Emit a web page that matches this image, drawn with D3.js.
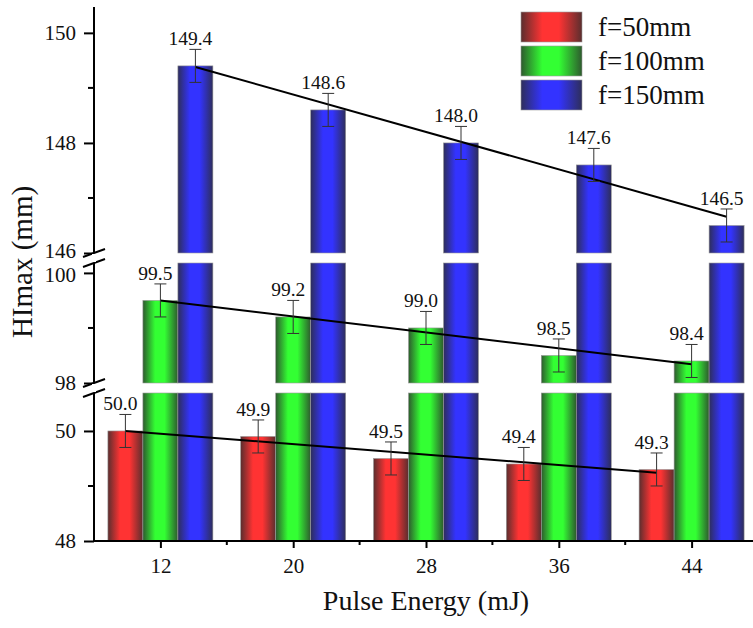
<!DOCTYPE html>
<html>
<head>
<meta charset="utf-8">
<script src="https://cdn.jsdelivr.net/npm/d3@7"></script>
<style>
  body { margin: 0; background: #fff; }
  text { font-family: "Liberation Serif", "Times New Roman", "DejaVu Serif", serif; fill: #111; }
</style>
</head>
<body>
<script>
const width = 753, height = 628;
const serif = '"Liberation Serif", "Times New Roman", "DejaVu Serif", serif';

// data
const energies = [12, 20, 28, 36, 44];
const seriesNames = ["f=50mm", "f=100mm", "f=150mm"];
const f50 = [50.0, 49.9, 49.5, 49.4, 49.3];
const f100 = [99.5, 99.2, 99.0, 98.5, 98.4];
const f150 = [149.4, 148.6, 148.0, 147.6, 146.5];
const err50 = [0.3, 0.3, 0.3, 0.3, 0.3];
const err100 = [0.3, 0.3, 0.3, 0.3, 0.3];
const err150 = [0.3, 0.3, 0.3, 0.3, 0.3];
const xTicks = [12, 20, 28, 36, 44];
const yTicksBottom = [48, 50];
const yTicksMiddle = [98, 100];
const yTicksTop = [146, 148, 150];

const series = [
  { name: seriesNames[0], values: f50, errs: err50, bright: "#ff3333", dark: "#5a2e2e", offset: -35 },
  { name: seriesNames[1], values: f100, errs: err100, bright: "#33ff33", dark: "#2e5a2e", offset: 0 },
  { name: seriesNames[2], values: f150, errs: err150, bright: "#3333ff", dark: "#2e2e5a", offset: 35 }
];

// three pieces of the broken y axis
const segments = [
  { domain: [48, 50.69], range: [541, 393], ticks: yTicksBottom },
  { domain: [98, 100.18], range: [383, 263], ticks: yTicksMiddle },
  { domain: [146, 150.47], range: [253, 7], ticks: yTicksTop }
];
segments.forEach(s => { s.y = d3.scaleLinear().domain(s.domain).range(s.range); });

const axisX = 94;
const x = d3.scaleLinear().domain([8, 48]).range([axisX, 758]);
const barW = 35;

const svg = d3.select("body").append("svg")
  .attr("width", width).attr("height", height);

const defs = svg.append("defs");
series.forEach((s, i) => {
  const g = defs.append("linearGradient").attr("id", "grad" + i)
    .attr("x1", 0).attr("x2", 1).attr("y1", 0).attr("y2", 0);
  g.append("stop").attr("offset", "0%").attr("stop-color", s.dark);
  g.append("stop").attr("offset", "35%").attr("stop-color", s.bright);
  g.append("stop").attr("offset", "62%").attr("stop-color", s.bright);
  g.append("stop").attr("offset", "100%").attr("stop-color", s.dark);
});

// bars, cut into the pieces of each segment
segments.forEach(seg => {
  const [lo, hi] = seg.domain;
  series.forEach((s, si) => {
    s.values.forEach((v, i) => {
      if (v <= lo) return;
      const top = Math.min(v, hi);
      svg.append("rect")
        .attr("x", x(energies[i]) + s.offset - barW / 2)
        .attr("width", barW)
        .attr("y", seg.y(top))
        .attr("height", seg.y(lo) - seg.y(top))
        .attr("fill", `url(#grad${si})`)
        .attr("stroke", "#999").attr("stroke-width", 0.6);
    });
  });
});

function segFor(v) {
  return segments.find(seg => v >= seg.domain[0] && v <= seg.domain[1]);
}

// linear fit trend lines
series.forEach(s => {
  const seg = segFor(s.values[0]);
  const mx = d3.mean(energies), my = d3.mean(s.values);
  const slope = d3.sum(energies, (e, i) => (e - mx) * (s.values[i] - my)) /
    d3.sum(energies, e => (e - mx) * (e - mx));
  const fit = e => my + slope * (e - mx);
  const e0 = energies[0], e1 = energies[energies.length - 1];
  svg.append("line")
    .attr("x1", x(e0) + s.offset).attr("y1", seg.y(fit(e0)))
    .attr("x2", x(e1) + s.offset).attr("y2", seg.y(fit(e1)))
    .attr("stroke", "#000").attr("stroke-width", 2);
});

// error bars and value labels
series.forEach(s => {
  s.values.forEach((v, i) => {
    const seg = segFor(v);
    const cx = x(energies[i]) + s.offset;
    const yt = seg.y(v + s.errs[i]), yb = seg.y(v - s.errs[i]);
    const g = svg.append("g").attr("stroke", "#333").attr("stroke-width", 1);
    g.append("line").attr("x1", cx).attr("x2", cx).attr("y1", yt).attr("y2", yb);
    g.append("line").attr("x1", cx - 6).attr("x2", cx + 6).attr("y1", yt).attr("y2", yt);
    g.append("line").attr("x1", cx - 6).attr("x2", cx + 6).attr("y1", yb).attr("y2", yb);
    svg.append("text")
      .attr("x", cx - 5).attr("y", yt - 4)
      .attr("text-anchor", "middle")
      .attr("font-size", 19.5)
      .text(v.toFixed(1));
  });
});

// y axis pieces
segments.forEach((seg, si) => {
  const [lo, hi] = seg.domain;
  const minor = d3.range(Math.ceil(lo), Math.floor(hi) + 1).filter(t => !seg.ticks.includes(t));
  const axis = d3.axisLeft(seg.y).tickValues(seg.ticks).tickFormat(d3.format("d"))
    .tickSize(10).tickPadding(8);
  const g = svg.append("g").attr("transform", `translate(${axisX},0)`).call(axis);
  g.select(".domain").attr("d", `M0,${seg.range[0]}V${seg.range[1]}`).attr("stroke-width", 2);
  g.selectAll(".tick line").attr("stroke-width", 2);
  g.selectAll(".tick text").attr("font-size", 21).attr("fill", "#111")
    .attr("font-family", serif)
    .attr("dy", d => d === 146 ? "0.2em" : d === 100 ? "0.42em" : "0.32em");
  g.selectAll(".minor").data(minor).enter().append("line")
    .attr("x1", -6).attr("x2", 0)
    .attr("y1", d => seg.y(d)).attr("y2", d => seg.y(d))
    .attr("stroke", "#000").attr("stroke-width", 2);
});

// break marks
[258, 388].forEach(yb => {
  [-5, 5].forEach(dy => {
    svg.append("line")
      .attr("x1", axisX - 11).attr("y1", yb + dy + 4)
      .attr("x2", axisX + 11).attr("y2", yb + dy - 4)
      .attr("stroke", "#000").attr("stroke-width", 2);
  });
  svg.append("rect").attr("x", axisX - 2).attr("y", yb - 4).attr("width", 4).attr("height", 8)
    .attr("fill", "#fff");
});

// x axis
const xAxis = d3.axisBottom(x).tickValues(xTicks).tickSize(7).tickPadding(10);
const gx = svg.append("g").attr("transform", `translate(0,${segments[0].range[0]})`).call(xAxis);
gx.select(".domain").attr("d", `M${axisX},0H${width}`).attr("stroke-width", 2);
gx.selectAll(".tick line").attr("stroke-width", 2);
gx.selectAll(".tick text").attr("font-size", 21).attr("fill", "#111")
  .attr("font-family", serif);
gx.selectAll(".minor").data(xTicks.map(t => t + 4)).enter().append("line")
  .attr("x1", d => x(d)).attr("x2", d => x(d))
  .attr("y1", 0).attr("y2", 4)
  .attr("stroke", "#000").attr("stroke-width", 2);

// axis titles
svg.append("text")
  .attr("x", 426).attr("y", 610)
  .attr("text-anchor", "middle").attr("font-size", 28)
  .text("Pulse Energy (mJ)");
svg.append("text")
  .attr("transform", "translate(32,262) rotate(-90)")
  .attr("text-anchor", "middle").attr("font-size", 29)
  .text("HImax (mm)");

// legend
const legend = svg.append("g").attr("transform", "translate(521,12)");
series.forEach((s, i) => {
  legend.append("rect")
    .attr("x", 0).attr("y", i * 34).attr("width", 61).attr("height", 30)
    .attr("fill", `url(#grad${i})`).attr("stroke", "#999").attr("stroke-width", 0.6);
  legend.append("text")
    .attr("x", 77).attr("y", i * 34 + 24)
    .attr("font-size", 27)
    .text(s.name);
});
</script>
</body>
</html>
